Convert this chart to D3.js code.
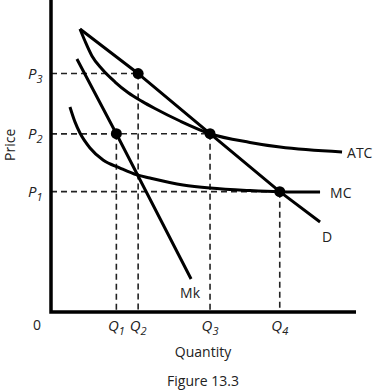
<!DOCTYPE html>
<html lang="en">
<head>
  <meta charset="UTF-8">
  <title>Figure 13.3</title>
  <script src="https://cdn.jsdelivr.net/npm/d3@7.6.1/dist/d3.min.js"></script>
  <style>
    body { margin: 0; background: #fff; }
    svg { display: block; }
    text { font-family: "Open Sans", "Liberation Sans", sans-serif; fill: #222; }
  </style>
</head>
<body>
  <div id="box"></div>
  <script>
    const width = 376
    const height = 392

    // quantity / price levels
    const qLevels = [3, 4, 7.3, 10.5]
    const qNames = ['1', '2', '3', '4']
    const pLevels = [5.4, 8.0, 10.7]
    const pNames = ['1', '2', '3']

    // curves [quantity, price]
    const demand = [[1.33, 12.7], [4, 10.7], [7.3, 8.0], [10.5, 5.4], [12.35, 4.04]]
    const mk = [[1.19, 11.35], [3, 8.0], [6.43, 1.48]]
    const atc = [[1.33, 12.7], [1.56, 12.16], [1.88, 11.49], [2.34, 10.9], [2.94, 10.32], [3.53, 9.85],
      [4.18, 9.45], [4.77, 9.13], [5.92, 8.57], [7.3, 8.0], [9.13, 7.61], [10.51, 7.4], [13.36, 7.18]]
    const mc = [[0.87, 9.2], [1.1, 8.53], [1.33, 8.03], [1.79, 7.36], [2.39, 6.82], [3.17, 6.46],
      [3.95, 6.15], [4.54, 6.01], [6.06, 5.7], [7.3, 5.56], [9.13, 5.45], [10.5, 5.4], [12.35, 5.38]]

    // dots: [q index, p index]
    const dots = [[0, 1], [1, 2], [2, 1], [3, 0]]

    const x = d3.scaleLinear().domain([0, 14]).range([51, 356])
    const y = d3.scaleLinear().domain([0, 14]).range([312, 0])

    const svg = d3.select('#box').append('svg')
      .attr('width', width)
      .attr('height', height)

    // dashed guides
    const guides = svg.append('g')
      .attr('stroke', '#222')
      .attr('stroke-width', 1.6)
      .attr('stroke-dasharray', '6,4')
    dots.forEach(([qi, pi]) => {
      guides.append('line')
        .attr('x1', x(0)).attr('x2', x(qLevels[qi]))
        .attr('y1', y(pLevels[pi])).attr('y2', y(pLevels[pi]))
      guides.append('line')
        .attr('x1', x(qLevels[qi])).attr('x2', x(qLevels[qi]))
        .attr('y1', y(pLevels[pi])).attr('y2', y(0))
    })

    // curves
    const line = d3.line().x(d => x(d[0])).y(d => y(d[1]))
    const smooth = d3.line().x(d => x(d[0])).y(d => y(d[1])).curve(d3.curveMonotoneX)
    const curves = svg.append('g')
      .attr('fill', 'none')
      .attr('stroke', '#000')
      .attr('stroke-width', 3)
      .attr('stroke-linejoin', 'round')
    curves.append('path').attr('d', line(demand))
    curves.append('path').attr('d', line(mk))
    curves.append('path').attr('d', smooth(atc))
    curves.append('path').attr('d', smooth(mc))

    svg.append('g').selectAll('circle')
      .data(dots)
      .join('circle')
      .attr('cx', d => x(qLevels[d[0]]))
      .attr('cy', d => y(pLevels[d[1]]))
      .attr('r', 5.5)
      .attr('fill', '#000')

    // axes
    svg.append('path')
      .attr('d', `M${x(0)},0V${y(0)}H${x(14)}`)
      .attr('fill', 'none')
      .attr('stroke', '#000')
      .attr('stroke-width', 3.5)

    // curve labels
    const last = a => a[a.length - 1]
    svg.append('text').attr('x', x(last(atc)[0]) + 5).attr('y', y(last(atc)[1]) + 6)
      .attr('font-size', 14).text('ATC')
    svg.append('text').attr('x', x(last(mc)[0]) + 10).attr('y', y(last(mc)[1]) + 6)
      .attr('font-size', 14).text('MC')
    svg.append('text').attr('x', x(last(demand)[0]) + 2).attr('y', y(last(demand)[1]) + 20)
      .attr('font-size', 14).text('D')
    svg.append('text').attr('x', x(last(mk)[0]) - 1).attr('y', y(last(mk)[1]) + 19)
      .attr('text-anchor', 'middle').attr('font-size', 14).text('Mk')

    // price tick labels
    pLevels.forEach((p, i) => {
      const t = svg.append('text')
        .attr('x', 28).attr('y', y(p) + 5)
        .attr('font-size', 15).attr('font-style', 'italic')
      t.append('tspan').text('P')
      t.append('tspan').attr('dy', 4).attr('font-size', 11).text(pNames[i])
    })

    // quantity tick labels
    qLevels.forEach((q, i) => {
      const t = svg.append('text')
        .attr('x', x(q)).attr('y', y(0) + 19)
        .attr('text-anchor', 'middle')
        .attr('font-size', 15).attr('font-style', 'italic')
      t.append('tspan').text('Q')
      t.append('tspan').attr('dy', 4).attr('font-size', 11).text(qNames[i])
    })

    svg.append('text').attr('x', 37).attr('y', y(0) + 18)
      .attr('text-anchor', 'middle').attr('font-size', 14).text('0')

    svg.append('text')
      .attr('transform', `translate(15,${y(7.5)}) rotate(-90)`)
      .attr('text-anchor', 'middle').attr('font-size', 14).text('Price')

    svg.append('text').attr('x', 203).attr('y', 357)
      .attr('text-anchor', 'middle').attr('font-size', 14).text('Quantity')
    svg.append('text').attr('x', 203).attr('y', 386)
      .attr('text-anchor', 'middle').attr('font-size', 14).text('Figure 13.3')
  </script>
</body>
</html>
